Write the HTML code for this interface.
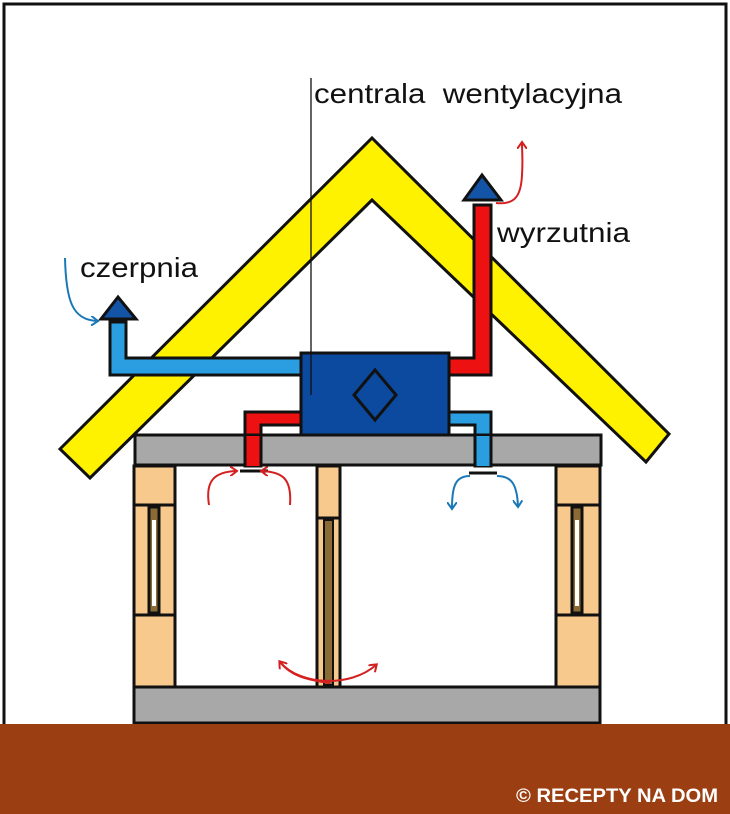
<!DOCTYPE html>
<html><head><style>body{margin:0;background:#fff}svg{display:block}</style></head>
<body>
<svg width="730" height="814" viewBox="0 0 730 814" xmlns="http://www.w3.org/2000/svg" font-family="Liberation Sans, sans-serif">
<defs>
<marker id="ar" markerWidth="10" markerHeight="10" refX="6" refY="5" orient="auto" markerUnits="userSpaceOnUse"><path d="M0,0 L7,5 L0,10" fill="none" stroke="#d42020" stroke-width="2"/></marker>
<marker id="ab" markerWidth="10" markerHeight="10" refX="6" refY="5" orient="auto" markerUnits="userSpaceOnUse"><path d="M0,0 L7,5 L0,10" fill="none" stroke="#1a78b8" stroke-width="2"/></marker>
</defs>
<rect x="0" y="0" width="730" height="814" fill="#fff"/>
<rect x="4" y="4" width="722" height="724" fill="#fff" stroke="#111" stroke-width="3"/>
<polygon points="60,449 372,138 669,434 646,462 372,200 90,478" fill="#fff200" stroke="#111" stroke-width="3"/>
<path d="M110,322 H126 V358 H301 V375 H110 Z" fill="#2a9ee0" stroke="#111" stroke-width="3"/>
<polygon points="118,297 101,319 136,319" fill="#1454a6" stroke="#111" stroke-width="3"/>
<path d="M474,205 H491 V375 H448 V358 H474 Z" fill="#ee1111" stroke="#111" stroke-width="3"/>
<polygon points="482,175 464,200 501,200" fill="#1454a6" stroke="#111" stroke-width="3"/>
<path d="M245,412 H301 V425 H261 V466 H245 Z" fill="#ee1111" stroke="#111" stroke-width="3"/>
<path d="M448,412 H491 V466 H475 V425 H448 Z" fill="#2a9ee0" stroke="#111" stroke-width="3"/>
<rect x="135" y="435" width="466" height="30" fill="#a8a8a8" stroke="#111" stroke-width="3"/>
<rect x="246" y="436" width="14" height="30" fill="#ee1111"/>
<rect x="476" y="436" width="14" height="30" fill="#2a9ee0"/>
<line x1="245" y1="436" x2="245" y2="466" stroke="#111" stroke-width="3"/>
<line x1="261" y1="436" x2="261" y2="466" stroke="#111" stroke-width="3"/>
<line x1="475" y1="436" x2="475" y2="466" stroke="#111" stroke-width="3"/>
<line x1="491" y1="436" x2="491" y2="466" stroke="#111" stroke-width="3"/>
<rect x="301" y="353" width="148" height="82" fill="#0b4a9e" stroke="#111" stroke-width="3"/>
<polygon points="375,370 396,395 375,420 354,395" fill="none" stroke="#111" stroke-width="3"/>
<g stroke="#111" stroke-width="3">
<rect x="134" y="466" width="41" height="221" fill="#f7c98d"/>
<line x1="134" y1="505" x2="175" y2="505"/><line x1="134" y1="615" x2="175" y2="615"/>
<rect x="149" y="507" width="10" height="106" fill="#8a6a35"/>
<rect x="556" y="466" width="44" height="221" fill="#f7c98d"/>
<line x1="556" y1="505" x2="600" y2="505"/><line x1="556" y1="615" x2="600" y2="615"/>
<rect x="572" y="507" width="10" height="106" fill="#8a6a35"/>
<rect x="317" y="466" width="23" height="221" fill="#f7c98d"/>
<line x1="317" y1="518" x2="340" y2="518"/>
<rect x="324" y="520" width="9" height="165" fill="#8a6a35" stroke-width="2"/>
</g>
<rect x="152" y="520" width="4" height="86" fill="#fff"/>
<rect x="575" y="520" width="4" height="86" fill="#fff"/>
<rect x="134" y="687" width="466" height="36" fill="#a8a8a8" stroke="#111" stroke-width="3"/>
<rect x="0" y="724" width="730" height="90" fill="#9b3f12"/>
<line x1="240" y1="471" x2="268" y2="471" stroke="#111" stroke-width="3"/>
<line x1="469" y1="473" x2="497" y2="473" stroke="#111" stroke-width="3"/>
<g fill="none" stroke-width="2">
<path d="M209,505 C205,480 215,472 236,471" stroke="#d42020" marker-end="url(#ar)"/>
<path d="M290,505 C292,478 282,472 262,471" stroke="#d42020" marker-end="url(#ar)"/>
<path d="M470,476 C456,476 452,485 452,508" stroke="#1a78b8" marker-end="url(#ab)"/>
<path d="M497,476 C512,476 517,485 518,506" stroke="#1a78b8" marker-end="url(#ab)"/>
<path d="M281,663 C300,685 350,688 376,665" stroke="#d42020" marker-end="url(#ar)"/>
<path d="M330,683 C305,680 290,675 280,662" stroke="#d42020" marker-end="url(#ar)"/>
<path d="M496,203 C515,205 521,196 522,175 C523,160 522,152 522,143" stroke="#d42020" marker-end="url(#ar)"/>
<path d="M65,258 C66,300 72,320 97,321" stroke="#1a78b8" marker-end="url(#ab)"/>
</g>
<line x1="311" y1="78" x2="311" y2="395" stroke="#111" stroke-width="1.3"/>
<g fill="#111" font-size="28">
<text x="314" y="103" textLength="308" lengthAdjust="spacingAndGlyphs" xml:space="preserve">centrala  wentylacyjna</text>
<text x="497" y="242" textLength="133" lengthAdjust="spacingAndGlyphs">wyrzutnia</text>
<text x="80" y="277" textLength="118" lengthAdjust="spacingAndGlyphs">czerpnia</text>
</g>
<text x="516" y="802" fill="#fff" font-size="19" font-weight="bold" textLength="202" lengthAdjust="spacingAndGlyphs">© RECEPTY NA DOM</text>
</svg>
</body></html>
